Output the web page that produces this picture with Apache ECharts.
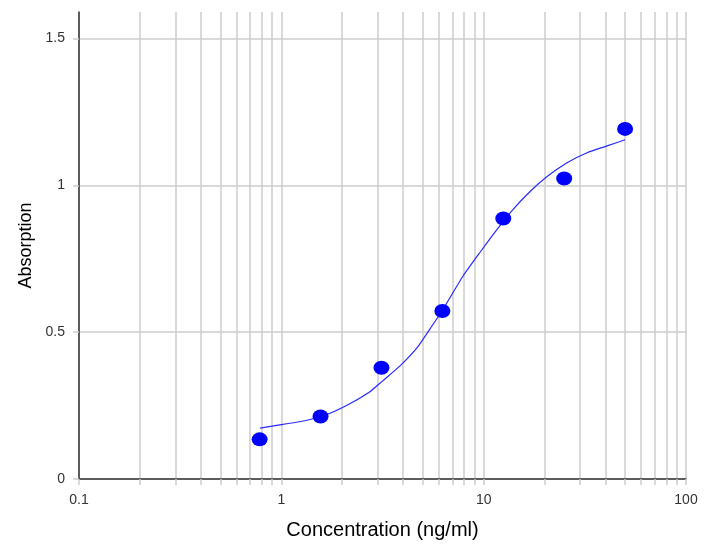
<!DOCTYPE html>
<html>
<head>
<meta charset="utf-8">
<script src="https://cdn.jsdelivr.net/npm/echarts@6/dist/echarts.min.js"></script>
<style>html,body{margin:0;padding:0;background:#fff;}#c{width:709px;height:545px;}</style>
</head>
<body>
<div id="c"></div>
<script>
// Measured standards
var concentrations = [0.78125, 1.5625, 3.125, 6.25, 12.5, 25, 50];
var absorptions = [0.135, 0.213, 0.379, 0.572, 0.887, 1.023, 1.192];
// Fitted curve
var curveX = [0.785, 1.02, 1.34, 1.74, 2.19, 2.75, 3.18, 3.86, 4.69, 5.44, 6.30, 7.91, 9.60, 11.65, 13.98, 16.96, 20.58, 25.84, 32.44, 40.74, 50.0];
var curveY = [0.173, 0.186, 0.200, 0.224, 0.257, 0.298, 0.335, 0.385, 0.447, 0.512, 0.578, 0.691, 0.772, 0.850, 0.918, 0.979, 1.030, 1.077, 1.111, 1.134, 1.155];
// Axis ticks
var xGridValues = [0.1,0.2,0.3,0.4,0.5,0.6,0.7,0.8,0.9,1,2,3,4,5,6,7,8,9,10,20,30,40,50,60,70,80,90,100];
var xLabelValues = [0.1, 1, 10, 100];
var yTickValues = [0, 0.5, 1, 1.5];

var font = 'Liberation Sans, Arial, sans-serif';
var chart = echarts.init(document.getElementById('c'));
chart.setOption({
  animation: false,
  grid: {left: 79, right: 23, top: 12, bottom: 64},
  xAxis: {
    type: 'log', logBase: 10, min: 0.1, max: 100,
    name: 'Concentration (ng/ml)', nameLocation: 'middle', nameGap: 41,
    nameTextStyle: {fontFamily: font, fontSize: 20, color: '#000'},
    axisLine: {show: true, lineStyle: {color: '#333', width: 1.5}},
    axisTick: {show: true, length: 6, customValues: xGridValues, lineStyle: {color: '#ccc', width: 1.5}},
    splitLine: {show: true, lineStyle: {color: '#ccc', width: 1.5}},
    axisLabel: {customValues: xLabelValues, fontFamily: font, fontSize: 14, color: '#333', margin: 14,
      formatter: function (v) { return String(v); }}
  },
  yAxis: {
    type: 'value', min: 0, max: 1.59,
    name: 'Absorption', nameLocation: 'middle', nameGap: 44, nameRotate: 90,
    nameTextStyle: {fontFamily: font, fontSize: 18, color: '#000'},
    axisLine: {show: true, lineStyle: {color: '#333', width: 1.5}},
    axisTick: {show: true, length: 6, customValues: yTickValues, lineStyle: {color: '#ccc', width: 1.5}},
    splitLine: {show: true, lineStyle: {color: '#ccc', width: 1.5}},
    axisLabel: {customValues: yTickValues, fontFamily: font, fontSize: 14, color: '#333', margin: 14,
      formatter: function (v) { return String(v); }}
  },
  series: [
    {
      type: 'line', data: curveX.map(function (x, i) { return [x, curveY[i]]; }),
      smooth: 0.2, showSymbol: false, symbol: 'none',
      lineStyle: {color: '#2a2aff', width: 1.2}, z: 2
    },
    {
      type: 'scatter', data: concentrations.map(function (x, i) { return [x, absorptions[i]]; }),
      symbol: 'circle', symbolSize: [16, 14],
      itemStyle: {color: '#0000ff', opacity: 1}, z: 3
    }
  ]
});
</script>
</body>
</html>
